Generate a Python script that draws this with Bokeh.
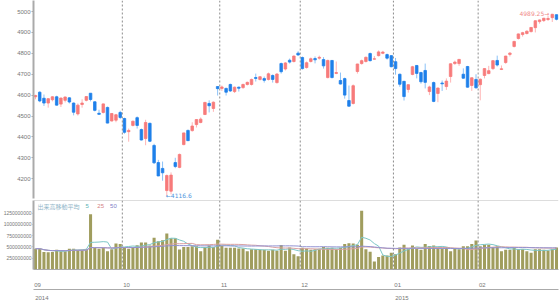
from bokeh.plotting import figure
from bokeh.layouts import column
from bokeh.models import Range1d, FixedTicker, Span, Label, NumeralTickFormatter, LinearAxis, ColumnDataSource
from bokeh.embed import file_html
from bokeh.resources import INLINE
import pandas as pd

# ---- data ----
months = ["09", "10", "11", "12", "01", "02"]
month_first = [0, 21, 44, 63, 85, 105]      # index of first session in each month
years = ["2014", "2015"]
year_first = [0, 85]

open_ = [4592, 4614, 4585, 4562, 4578, 4592, 4557, 4575, 4587, 4562, 4510, 4555, 4575, 4609, 4568, 4513, 4517, 4541, 4476, 4480, 4517,
         4488, 4425, 4455, 4492, 4435, 4392, 4465, 4359, 4277, 4249, 4143, 4140, 4277, 4254, 4363, 4431, 4430, 4459, 4469, 4507, 4560, 4536, 4641,
         4632, 4632, 4651, 4617, 4638, 4636, 4651, 4651, 4684, 4675, 4679, 4675, 4694, 4660, 4751, 4725, 4767, 4761, 4801,
         4780, 4732, 4761, 4775, 4777, 4770, 4684, 4766, 4704, 4670, 4679, 4574, 4560, 4713, 4751, 4761, 4799, 4772, 4789, 4800, 4794, 4789,
         4760, 4700, 4666, 4627, 4699, 4742, 4708, 4718, 4617, 4660, 4608, 4658, 4641, 4689, 4751, 4751, 4700, 4737, 4646, 4675,
         4650, 4694, 4703, 4727, 4766, 4723, 4756, 4795, 4833, 4871, 4890, 4895, 4904, 4923, 4952, 4957, 4962, 4971, 4985]
high = [4602, 4618, 4603, 4585, 4595, 4597, 4588, 4593, 4590, 4565, 4560, 4580, 4595, 4610, 4570, 4530, 4560, 4545, 4514, 4510, 4525,
        4492, 4440, 4478, 4498, 4440, 4482, 4468, 4367, 4290, 4282, 4220, 4230, 4300, 4320, 4420, 4435, 4470, 4485, 4493, 4568, 4575, 4570, 4641,
        4646, 4636, 4655, 4641, 4641, 4655, 4665, 4679, 4703, 4690, 4689, 4708, 4699, 4705, 4756, 4758, 4775, 4790, 4810,
        4785, 4761, 4780, 4785, 4789, 4782, 4770, 4768, 4761, 4708, 4684, 4646, 4651, 4750, 4770, 4785, 4804, 4787, 4814, 4812, 4799, 4792,
        4778, 4703, 4668, 4652, 4740, 4744, 4712, 4751, 4645, 4665, 4636, 4670, 4680, 4752, 4765, 4773, 4728, 4740, 4684, 4700,
        4680, 4728, 4740, 4768, 4789, 4742, 4788, 4806, 4860, 4895, 4903, 4910, 4926, 4958, 4962, 4970, 4980, 4989.25, 4986]
low = [4580, 4566, 4548, 4540, 4570, 4550, 4543, 4565, 4560, 4503, 4502, 4540, 4570, 4570, 4522, 4506, 4512, 4465, 4474, 4470, 4485,
       4415, 4377, 4450, 4440, 4383, 4360, 4375, 4270, 4212, 4190, 4116.6, 4125, 4250, 4250, 4360, 4380, 4425, 4445, 4465, 4505, 4517, 4520, 4598,
       4620, 4598, 4615, 4610, 4617, 4630, 4646, 4646, 4665, 4670, 4660, 4670, 4660, 4655, 4703, 4718, 4751, 4756, 4789,
       4722, 4727, 4756, 4752, 4770, 4727, 4680, 4680, 4700, 4651, 4583, 4545, 4555, 4703, 4746, 4756, 4761, 4770, 4785, 4796, 4770, 4733,
       4698, 4640, 4574, 4612, 4695, 4680, 4655, 4632, 4600, 4566, 4566, 4620, 4625, 4660, 4745, 4740, 4678, 4636, 4620, 4631,
       4575, 4680, 4700, 4720, 4737, 4720, 4750, 4785, 4828, 4866, 4880, 4890, 4900, 4900, 4942, 4950, 4955, 4950, 4958]
close = [4598, 4572, 4562, 4583, 4592, 4552, 4586, 4591, 4567, 4518, 4552, 4562, 4593, 4579, 4527, 4508, 4558, 4466, 4512, 4506, 4493,
         4422, 4431, 4475, 4455, 4385, 4469, 4379, 4276, 4213, 4228, 4215, 4217, 4258, 4316, 4419, 4382, 4452, 4483, 4485, 4565, 4549, 4566, 4631,
         4639, 4614, 4620, 4638, 4633, 4651, 4661, 4675, 4680, 4688, 4671, 4702, 4675, 4701, 4712, 4754, 4758, 4787, 4792,
         4727, 4755, 4774, 4769, 4781, 4740, 4766, 4684, 4708, 4653, 4600, 4547, 4645, 4749, 4765, 4781, 4765, 4774, 4807, 4806, 4777, 4736,
         4727, 4652, 4593, 4650, 4736, 4704, 4664, 4661, 4639, 4570, 4634, 4654, 4667, 4750, 4758, 4771, 4681, 4638, 4683, 4635,
         4676, 4727, 4717, 4765, 4744, 4726, 4787, 4801, 4857, 4893, 4899, 4906, 4924, 4956, 4960, 4968, 4967, 4987, 4963]
volume_m = [460, 465, 390, 385, 390, 440, 405, 405, 460, 460, 435, 435, 450, 1225, 475, 460, 480, 405, 450, 577, 565,
            500, 460, 500, 540, 596, 596, 532, 705, 628, 647, 800, 692, 692, 442, 500, 500, 513, 513, 404, 500, 532, 500, 660,
            519, 480, 480, 480, 467, 467, 404, 448, 448, 436, 436, 417, 436, 417, 545, 417, 487, 340, 295,
            480, 467, 436, 448, 448, 500, 480, 480, 448, 480, 564, 583, 577, 551, 1302, 448, 391, 180, 276, 308, 308, 372,
            340, 487, 551, 467, 532, 467, 436, 564, 519, 532, 480, 467, 500, 404, 467, 448, 513, 513, 564, 641,
            513, 551, 551, 500, 513, 404, 436, 436, 487, 448, 448, 404, 372, 448, 448, 436, 423, 448, 487]
ma_windows = [5, 25, 50]
price_ticks = [4200, 4300, 4400, 4500, 4600, 4700, 4800, 4900, 5000]
vol_ticks = [250e6, 500e6, 750e6, 1000e6, 1250e6]

# ---- derived ----
n = len(close)
idx = list(range(n))
volume = [v * 1e6 for v in volume_m]
up = [c >= o for o, c in zip(open_, close)]
UP_BODY, DN_BODY = "#f77b7b", "#1f80ea"
UP_WICK, DN_WICK = "#ffb4b4", "#8cc2f7"
src = ColumnDataSource(dict(
    x=idx, o=open_, h=high, l=low, c=close,
    top=[max(o, c) for o, c in zip(open_, close)],
    bottom=[min(o, c) for o, c in zip(open_, close)],
    body=[UP_BODY if u else DN_BODY for u in up],
    wick=[UP_WICK if u else DN_WICK for u in up],
))

FONT = "Liberation Sans"
AX = "#aaaaaa"
LBL = "#777777"
VLINE = dict(dimension="height", line_color="#8c8c8c", line_dash="2 2", line_width=1)
xr = Range1d(-0.47, 123.47)

# ---- price panel ----
p1 = figure(width=560, height=200, x_range=xr, y_range=Range1d(4105, 5053),
            output_backend="svg", toolbar_location=None, x_axis_location=None,
            min_border_left=31, min_border_right=2, min_border_top=0, min_border_bottom=2)
p1.grid.visible = False
p1.outline_line_color = None
p1.yaxis.ticker = FixedTicker(ticks=price_ticks)
p1.yaxis.axis_line_color = AX
p1.yaxis.axis_line_width = 2
p1.yaxis.major_tick_line_color = AX
p1.yaxis.major_tick_out = 2
p1.yaxis.major_tick_in = 0
p1.yaxis.minor_tick_line_color = None
p1.yaxis.major_label_standoff = 1
p1.yaxis.major_label_text_font = FONT
p1.yaxis.major_label_text_font_size = "6px"
p1.yaxis.major_label_text_color = LBL

for f in month_first[1:]:
    p1.add_layout(Span(location=f - 0.5, **VLINE))

p1.segment(x0="x", y0="l", x1="x", y1="h", line_color="wick", line_width=1, source=src)
p1.vbar(x="x", width=0.6, top="top", bottom="bottom", fill_color="body",
        line_color="body", line_width=0.8, source=src)

i_lo = min(idx, key=lambda i: low[i])
i_hi = max(idx, key=lambda i: high[i])
p1.add_layout(Label(x=i_lo, y=low[i_lo], text=f"\u2190{low[i_lo]:.1f}", x_offset=-1, y_offset=1,
                    text_align="left", text_baseline="middle", text_font="DejaVu Sans",
                    text_font_size="6px", text_color="#4d95dd"))
p1.add_layout(Label(x=i_hi, y=high[i_hi], text=f"{high[i_hi]:.2f}\u2192", x_offset=-3, y_offset=0,
                    text_align="right", text_baseline="middle", text_font="DejaVu Sans",
                    text_font_size="6px", text_color="#f08a8a"))

# ---- volume panel ----
p2 = figure(width=560, height=102, x_range=xr, y_range=Range1d(0, 1.53e9),
            output_backend="svg", toolbar_location=None,
            min_border_left=31, min_border_right=2, min_border_top=0, min_border_bottom=0)
p2.grid.visible = False
p2.outline_line_color = None
p2.yaxis.ticker = FixedTicker(ticks=vol_ticks)
p2.yaxis.formatter = NumeralTickFormatter(format="0")
p2.yaxis.axis_line_color = AX
p2.yaxis.axis_line_width = 2
p2.yaxis.major_tick_line_color = AX
p2.yaxis.major_tick_out = 1
p2.yaxis.major_tick_in = 0
p2.yaxis.minor_tick_line_color = None
p2.yaxis.major_label_standoff = 1
p2.yaxis.major_label_text_font = FONT
p2.yaxis.major_label_text_font_size = "5px"
p2.yaxis.major_label_text_color = LBL

xa = p2.xaxis[0]
xa.ticker = FixedTicker(ticks=[f + 0.5 for f in month_first])
xa.major_label_overrides = {f + 0.5: m for f, m in zip(month_first, months)}
ya = LinearAxis(ticker=FixedTicker(ticks=[f + 1.5 for f in year_first]),
                major_label_overrides={f + 1.5: y for f, y in zip(year_first, years)})
p2.add_layout(ya, "below")
for ax, st in ((xa, 7), (ya, 0)):
    ax.axis_line_color = AX
    ax.axis_line_width = 1
    ax.major_tick_line_color = None
    ax.minor_tick_line_color = None
    ax.major_label_standoff = st
    ax.major_label_text_font = FONT
    ax.major_label_text_font_size = "6px"
    ax.major_label_text_color = LBL

p2.add_layout(Span(location=1.53e9, dimension="width", line_color="#bbbbbb", line_width=1))
for f in month_first[1:]:
    p2.add_layout(Span(location=f - 0.5, **VLINE))

p2.vbar(x=idx, top=volume, width=0.72, fill_color="#a09d5e", line_color=None)

vs = pd.Series(volume)
ma_colors = ["#7cc6c6", "#d9a2a2", "#9292d2"]
for w, col in zip(ma_windows, ma_colors):
    p2.line(idx, vs.rolling(w, min_periods=1).mean().tolist(), line_color=col, line_width=1)

leg_y = 1.40e9
p2.add_layout(Label(x=0.5, y=leg_y, text="出来高移動平均", text_font="Noto Sans CJK JP",
                    text_font_size="6px", text_color="#8fb5c8", text_baseline="middle"))
for xx, w, col in zip([11.8, 14.6, 17.6], ma_windows, ["#5fb3b3", "#d48484", "#8080c8"]):
    p2.add_layout(Label(x=xx, y=leg_y, text=str(w), text_font=FONT,
                        text_font_size="6px", text_color=col, text_baseline="middle"))

layout = column(p1, p2, spacing=0)
open("out.html", "w").write(file_html(layout, INLINE))
